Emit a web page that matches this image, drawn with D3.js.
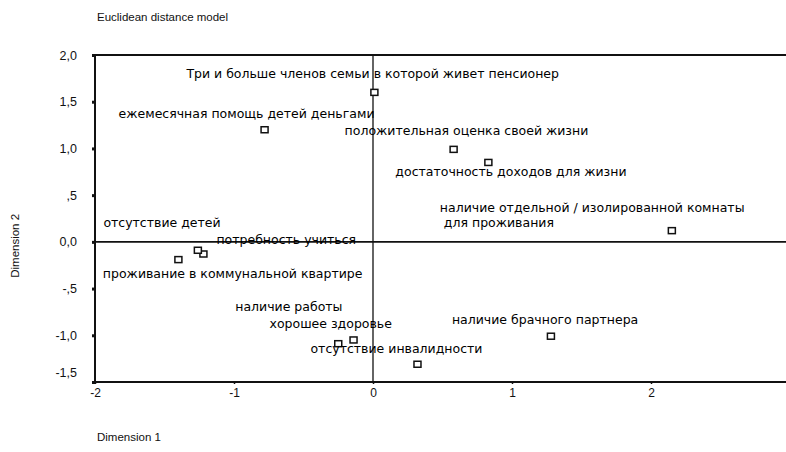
<!DOCTYPE html>
<html>
<head>
<meta charset="utf-8">
<script src="https://cdn.jsdelivr.net/npm/d3@7"></script>
<style>
  body { margin: 0; background: #fff; }
  svg { display: block; font-family: "Liberation Sans", Arial, sans-serif; }
</style>
</head>
<body>
<div id="viz"></div>
<script>
const labels = [
  "Три и больше членов семьи в которой живет пенсионер",
  "ежемесячная помощь детей деньгами",
  "положительная оценка своей жизни",
  "достаточность доходов для жизни",
  "наличие отдельной / изолированной комнаты|для проживания",
  "отсутствие детей",
  "потребность учиться",
  "проживание в коммунальной квартире",
  "наличие работы",
  "хорошее здоровье",
  "отсутствие инвалидности",
  "наличие брачного партнера"
];
const dim1 = [0.01, -0.78, 0.58, 0.83, 2.15, -1.40, -1.22, -1.26, -0.25, -0.14, 0.32, 1.28];
const dim2 = [1.60, 1.20, 0.99, 0.85, 0.12, -0.19, -0.13, -0.09, -1.09, -1.05, -1.31, -1.01];
// label placement relative to the point, px (text start, middle line)
const labelOffsets = [
  [-188, -19], [-146, -16], [-109, -19], [-93, 9], [-232, -23], [-75, -37],
  [13, -14], [-95, 23], [-103, -37], [-84, -16], [-107, -16], [-99, -17]
];
const xTicks = [-2, -1, 0, 1, 2];
const yTicks = [2.0, 1.5, 1.0, 0.5, 0.0, -0.5, -1.0, -1.5];

const W = 786, H = 452;
const svg = d3.select("#viz").append("svg")
  .attr("width", W).attr("height", H);

const x = d3.scaleLinear().domain([-2, 3]).range([95, 790]);
const y = d3.scaleLinear().domain([-1.5, 2.0]).range([382, 55]);

const fmtY = v => {
  if (v === 0) return "0,0";
  let s = Math.abs(v).toFixed(1).replace(".", ",");
  if (Math.abs(v) < 1) s = s.slice(1);
  return (v < 0 ? "-" : "") + s;
};
const fmtX = v => (v < 0 ? "-" : "") + Math.abs(v);

// frame
svg.append("line").attr("x1", x(-2)).attr("x2", W).attr("y1", y(2)).attr("y2", y(2))
  .attr("stroke", "#111").attr("stroke-width", 2);
svg.append("line").attr("x1", x(-2)).attr("x2", W).attr("y1", y(-1.5)).attr("y2", y(-1.5))
  .attr("stroke", "#111").attr("stroke-width", 2.2);
svg.append("line").attr("x1", x(-2)).attr("x2", x(-2)).attr("y1", y(2)).attr("y2", y(-1.5))
  .attr("stroke", "#111").attr("stroke-width", 2);

// zero lines
svg.append("line").attr("x1", x(-2)).attr("x2", W).attr("y1", y(0)).attr("y2", y(0))
  .attr("stroke", "#111").attr("stroke-width", 1.6);
svg.append("line").attr("x1", x(0)).attr("x2", x(0)).attr("y1", y(2)).attr("y2", y(-1.5))
  .attr("stroke", "#111").attr("stroke-width", 1.3);

// y axis ticks
const yAxis = svg.append("g").attr("transform", `translate(${x(-2)},0)`)
  .call(d3.axisLeft(y).tickValues(yTicks).tickFormat(fmtY).tickSize(3).tickPadding(15));
yAxis.select(".domain").remove();
yAxis.selectAll("line").attr("stroke", "#111").attr("stroke-width", 3);
yAxis.selectAll("text")
  .attr("fill", "#111")
  .style("font-size", "12.5px")
  .attr("dy", d => d === -1.5 ? "-0.45em" : "0.32em");

// x axis ticks
const xAxis = svg.append("g").attr("transform", `translate(0,${y(-1.5)})`)
  .call(d3.axisBottom(x).tickValues(xTicks).tickFormat(fmtX).tickSize(2).tickPadding(4));
xAxis.select(".domain").remove();
xAxis.selectAll("line").attr("stroke", "#111").attr("stroke-width", 1.5);
xAxis.selectAll("text").attr("fill", "#111").style("font-size", "12px");

// points
const pts = labels.map((l, i) => ({ label: l, d1: dim1[i], d2: dim2[i], off: labelOffsets[i] }));

svg.selectAll("rect.pt")
  .data(pts)
  .join("rect")
    .attr("class", "pt")
    .attr("x", d => x(d.d1) - 3.5)
    .attr("y", d => y(d.d2) - 3)
    .attr("width", 7)
    .attr("height", 6)
    .attr("fill", "#fff")
    .attr("stroke", "#111")
    .attr("stroke-width", 1.5);

const lab = svg.selectAll("text.lab")
  .data(pts)
  .join("text")
    .attr("class", "lab")
    .attr("x", d => x(d.d1) + d.off[0])
    .attr("y", d => y(d.d2) + d.off[1])
    .attr("fill", "#000")
    .style("font-family", "'DejaVu Sans', sans-serif")
    .style("font-size", "12.5px");

lab.each(function(d) {
  const lines = d.label.split("|");
  const t = d3.select(this);
  lines.forEach((ln, i) => {
    t.append("tspan")
      .attr("x", x(d.d1) + d.off[0] + (i > 0 ? 4 : 0))
      .attr("dy", i === 0 ? "0.35em" : "15")
      .text(ln);
  });
});

// titles
svg.append("text").attr("x", 97).attr("y", 21)
  .style("font-size", "11.5px").attr("fill", "#111")
  .text("Euclidean distance model");

svg.append("text").attr("x", 97).attr("y", 441)
  .style("font-size", "11.5px").attr("fill", "#111")
  .text("Dimension 1");

svg.append("text")
  .attr("transform", `translate(19,${y(0) + 4}) rotate(-90)`)
  .attr("text-anchor", "middle")
  .style("font-size", "11.5px").attr("fill", "#111")
  .text("Dimension 2");
</script>
</body>
</html>
